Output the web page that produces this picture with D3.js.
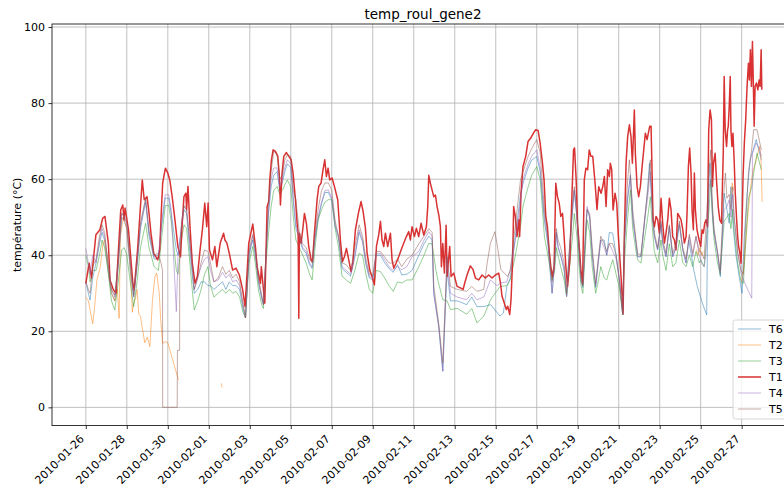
<!DOCTYPE html>
<html><head><meta charset="utf-8">
<script src="https://cdn.jsdelivr.net/npm/d3@7"></script>
<style>body{margin:0;background:#fff}svg{display:block}text{font-family:"DejaVu Sans",sans-serif}</style>
</head><body><svg id="c" width="784" height="487"></svg>
<script>
// ---------------- data ----------------
const title = "temp_roul_gene2";
const yLabel = "température (°C)";
const startDate = "2010-01-26T00:00:00Z";   // hour 0 of every series
const seriesNames = ["T6","T2","T3","T1","T4","T5"];
const xTickLabels = ["2010-01-26","2010-01-28","2010-01-30","2010-02-01","2010-02-03","2010-02-05","2010-02-07","2010-02-09","2010-02-11","2010-02-13","2010-02-15","2010-02-17","2010-02-19","2010-02-21","2010-02-23","2010-02-25","2010-02-27"];
const yTickValues = [0,20,40,60,80,100];

// [hours since startDate, °C]
const T1 = [[0,32.6],[3.9,37.9],[6.7,34],[11.8,45.4],[16.5,46.7],[19.7,49.7],[22.4,50.2],[26.4,43.2],[28.3,33.5],[32.3,30.9],[35.4,30],[38.2,41.4],[40.9,51.9],[43.3,53.2],[44.8,49.3],[46,52.4],[50,46.7],[51.9,41.4],[55.1,32.6],[56.6,30.9],[60.6,41.4],[63.7,51.9],[66.1,59.8],[68.4,54.6],[71.6,55.4],[73.6,51.9],[76.3,45.8],[79.5,40.5],[84.2,38.8],[86.5,41.4],[88.5,51.9],[90,59],[93.2,62.9],[96,61.6],[98.3,59.8],[101.1,55.4],[103.9,50.2],[107.8,42.3],[110.9,39.6],[112.9,48.4],[114.9,55.4],[117.2,56.3],[118,51.9],[119.6,58.1],[122,47.5],[124.7,37.9],[127.9,32.6],[130.6,34.4],[133.8,41.4],[136.5,46.7],[139.3,53.7],[141.6,47.5],[143.2,53.7],[144.8,41.4],[148.3,38.8],[151.1,42.3],[153.4,37],[157.4,43.2],[161.3,45.8],[162.9,44],[165.2,43.2],[168,40.5],[171.9,36.1],[175.8,36.6],[179.8,34.8],[183.7,30.9],[186.5,26.5],[190.8,43.2],[195.5,48.2],[198.6,42.3],[200.6,37],[204.5,32.6],[205.5,37],[208.4,30],[209.6,27.4],[212.3,52.8],[214.2,54.1],[215.4,59.8],[217.4,65.1],[219.3,67.7],[222,67.3],[224.8,66],[226.7,60.7],[227.9,53.2],[229.8,61.6],[231.8,66],[234.9,67],[237.7,66],[240.4,65.1],[242.7,61.6],[245.5,54.6],[247.4,48.4],[248.6,45.8],[249.4,23.4],[250.1,45.8],[252.1,43.2],[254.4,47.5],[256,51],[258.3,48.4],[261,42.3],[263.8,38.8],[265.4,38.3],[267.7,45.8],[270.8,54.6],[272.8,58.1],[275.5,59],[277.8,62.5],[279.8,65.1],[281.7,60.7],[283.7,62.9],[285.6,59.8],[288.4,60.3],[291.1,58.1],[293.5,55.9],[295,54.6],[298.1,44],[300.5,38.3],[302.8,39.6],[305.2,41.8],[307.9,38.8],[310.6,35.7],[312.6,37.9],[315.7,46.7],[319.6,51.5],[322.3,54.1],[324.7,51.5],[327.4,47.1],[329.4,40.5],[332.5,36.1],[335.2,34.4],[337.9,32.2],[340.3,42.3],[343,45.4],[345,48.9],[346.9,44],[348.9,42.3],[350.8,45.8],[353.5,42.3],[356.7,45.8],[358.6,38.8],[360.6,36.6],[363.3,37.9],[366.4,39.6],[369.2,41.4],[372.3,43.2],[375.4,44.9],[378.1,46.2],[380.1,44],[382,47.5],[384.8,44.9],[387.1,47.1],[389.8,44.9],[392.6,48.4],[395.7,45.3],[398.8,47.5],[400.4,52.8],[401.6,61],[403.5,58.9],[405.5,57.1],[407.4,55.4],[409.4,55.8],[411.3,52.8],[413.3,50.6],[415.2,47.5],[416.4,37],[418,43.1],[419.9,35.3],[421.9,47.9],[423,34.4],[426.1,42.3],[427.7,34.4],[430.8,35.3],[434.7,31.8],[438.6,31.4],[441.8,31],[443.7,32.7],[446.4,34.8],[450.3,37.2],[453.5,36.2],[456.2,34],[460.1,33.5],[464,34.8],[467.9,34],[471.8,34.8],[475.7,34],[479.6,34.8],[483.5,35.3],[485.5,32.7],[487.4,29.2],[490.1,27.4],[492.5,25.7],[494,26.6],[496.4,24.4],[497.9,28.3],[499.8,38.8],[501,52.8],[503,50.1],[504.9,44.9],[506.9,49.3],[508,44.9],[509.6,56.2],[511.9,63.3],[515.1,66],[517.8,69.9],[521,70.8],[524.1,72.1],[526.8,73],[529.6,72.8],[532,69.5],[534.7,64.2],[536.6,59.8],[538.6,50.2],[540.5,47.5],[542.5,41.4],[544.5,37],[546.4,34.4],[548.4,37],[550.3,58.9],[552.3,55.4],[554.3,53.7],[556.2,50.2],[558.2,51],[560.1,44.9],[562.1,37],[564.1,31.8],[566.8,38.8],[568.8,52.8],[571.1,67.7],[572.3,68.2],[574.2,59.8],[575.8,48.4],[577.8,42.3],[579.7,36.1],[581.7,32.6],[583.7,59.8],[585.6,62.9],[587.6,62.5],[589.5,67.7],[591.5,66],[593.6,66],[596.3,59],[598.6,52],[600.6,58],[603.3,56.3],[605.3,58],[607.2,60.7],[609.2,52.8],[611.1,62.5],[613.1,60.7],[614.2,64.2],[615.8,62.5],[617.4,51.9],[619.7,56.3],[621.7,53.7],[623.6,44.9],[625.2,39.6],[626.7,34.4],[629.1,24.7],[630.6,44.9],[632.6,64.2],[634.5,71.2],[636.5,74.3],[638.4,71.2],[640,64.2],[641.2,71.2],[642.3,78.2],[643.5,66.8],[645.5,58.1],[647.4,55.4],[649.4,58.1],[651.4,63.3],[653.3,67.7],[655.2,72.1],[657.2,70.4],[658.7,72.1],[660.3,73.9],[661.9,73.9],[663,62.5],[664.2,49.3],[665.8,47.5],[667.7,50.2],[669.7,49.3],[671.6,45.8],[673.6,55],[675.5,48.4],[677.5,43.2],[679.4,45.8],[681.4,49.3],[683.3,55],[685.3,51.9],[687.2,44.9],[689.2,44],[691.1,41.4],[693.1,51],[695,50.2],[697,49.3],[699,46.7],[700.9,43.2],[702.9,44.9],[704,51],[705.6,63.3],[707.1,68.2],[708.7,61.6],[709.9,51.9],[711.4,46.7],[712.6,61.6],[713.8,51.9],[715.7,46.7],[717.3,44.9],[720,42.3],[721.6,46.7],[723.1,45.8],[724.7,48.4],[726.3,49.3],[727.9,47.5],[729.4,73],[731,78.2],[732.6,75.6],[733.8,58.1],[735,64.2],[736.9,66.8],[738.5,59.8],[740.5,52.8],[742.4,49.3],[744.4,48.4],[746.4,66.8],[747.5,87],[748.7,73],[750.3,68.6],[751.5,73],[752.3,73.9],[753.4,79.1],[754.6,87],[755.4,73],[756.6,68.6],[757.8,72.1],[759.3,64.2],[760.5,56.3],[762.1,49.3],[763.3,44.9],[764.4,42.3],[766,40.5],[767.2,37.9],[768.4,47.5],[769.6,60.7],[771.1,69.5],[772.7,75.6],[774.3,84.4],[775.9,90.5],[777,86.1],[778.2,94],[779.4,84.4],[780.6,96.2],[781.8,83.5],[782.6,73.9],[783.7,84.4],[785.3,85.3],[786.9,83.5],[788.4,86.1],[789.6,84.4],[790.8,94],[791.6,83.5]];

const T2 = [[0,29],[3,28],[5,25.6],[8,22],[10,25.6],[13,33.5],[17,37],[20,43],[22,44],[26,37],[30,30],[34,28],[37,31],[39,23.4],[40.5,45],[44,50],[48,47],[52,37],[54.5,25],[55.5,27],[58,28.5],[60,31],[62,24.5],[64,24],[66,21],[69,17],[72,18.5],[75,16],[78,28],[81,34.4],[83,35.3],[86,30],[88,22],[90,16.8],[93,17.3],[96,17],[100.7,13.3],[108.5,7.2],[109,null],[158.8,6.3],[159.6,5.2],[160,null],[715,41.5],[717,40],[719,42],[721,40],[723,41],[725,null],[755,56],[757,59],[758.5,57],[759,null],[768,33],[771,38],[775,50],[778,57],[781,62],[785,65],[789,68.6],[790.5,66],[792,54]];

const T3 = [[0,40],[3,37],[5,33],[8,36],[12,36],[16,40],[19,44],[22,42],[26,36],[30,28],[34,25.6],[38,33],[42,41.4],[45,42],[48,40],[52,33],[56,26.5],[60,33],[64,42],[70,48.4],[74,42],[80,37],[85,36],[89,45],[93,53],[97,53.2],[100,49],[106,36],[108,35],[112,44],[115,48],[118,47],[121,40],[125,30],[127,25.6],[131,28],[135,31],[139,35],[143,37],[146,32],[150,29],[155,30],[160,31],[164,30],[168,31],[172,30],[176,30.5],[180,29],[184,25],[187,23.5],[191,38],[195.5,42.3],[199,37],[202,31],[206,27],[208,26],[211,38],[214,45.8],[217,52.8],[220,57],[224,58.1],[227,56],[230,57],[233,58.5],[236,59.8],[240,58],[243,50],[246,44],[250,42],[254,40],[258,38],[262,35],[265,33.5],[268,41],[272,49.3],[276,52],[280,54],[284,54.6],[288,54.6],[292,47],[296,42],[300,34.5],[305,33.5],[310,32.6],[315,36],[320,40.5],[324,40],[328,35],[332,31],[336,30],[340,36],[345,35.7],[350,34],[355,32],[360,30.5],[365,33],[370,32.7],[376,33.5],[382,33.5],[390,37],[396,40],[401.6,43.1],[405.5,43],[410,36],[413,32.7],[418,28.3],[423,28],[427,25.7],[435,26],[446,24.5],[452,26],[458,22.2],[466,24],[474,28.3],[485,31.8],[493,32],[497,33.5],[503,40],[509,47.5],[512,53],[518,58],[522,61],[528,63.3],[532,60],[537,45],[541,40],[546,33.5],[549,36],[551,42],[553,40],[556,37],[560,33.5],[563,29.1],[566,36],[570,45],[572,51],[575,45],[578,36],[580,31.8],[582,30],[585,42],[587,49.3],[590,46],[593,37],[597,30],[600,33],[603,37],[607,34],[610,33.5],[613,36],[617,38.8],[621,35],[625,30.9],[628.7,24.3],[630.6,38],[634.5,50],[637.7,57.2],[640.4,47],[644.3,41],[646.2,38.8],[650,37.9],[654,44],[658,50],[661,55.4],[663.8,46],[665.7,41],[669.6,38],[673.5,44],[675.5,40],[679.4,36],[683.3,43],[687.2,37],[691,38],[695,44],[699,38],[702.8,37],[706.7,40],[710.6,37],[714.5,41],[718.4,38],[720,38.8],[724,37],[729.8,52],[731.8,59.8],[733.8,50],[735.7,44],[739.7,38],[742.8,35],[747.5,49],[750.7,50],[753.4,51],[755.4,47],[757.4,52],[759.3,46],[763.3,38],[767.2,33],[770,32.6],[773,45],[776,55],[779.8,58],[783,63],[786,66.8],[791,62.5]];

const T4 = [[0,41.8],[3,38],[5,35],[8,40],[12,38],[16,44],[19,47],[22,45],[26,38],[30,31],[34,29],[38,38],[42,51],[45,50],[48,48],[52,38],[56,29],[60,38],[64,48],[70,54.6],[74,46],[80,39.6],[85,40],[89,49],[93,55.9],[97,55.9],[100,52],[106,25.2],[108,40],[112,48],[115,52.8],[118,52],[121,45],[125,36],[127,31],[131,34],[135,37],[139,39],[143,39.6],[146,36],[150,33],[155,33.5],[160,35.5],[164,34],[168,35],[172,33],[176,33.5],[180,32],[184,27],[187,23.5],[191,40],[195.5,45],[199,40],[202,33.5],[206,29],[208,27],[211,40],[214,52],[217,60],[220,62.9],[224,63],[227,58],[230,60],[233,63],[236,65.1],[240,64],[243,55],[246,48],[250,45],[254,42],[258,41],[262,38],[265,37],[268,44],[272,50],[276,54],[280,57],[284,57.2],[288,55],[292,48],[296,44.9],[300,37],[305,36],[310,35],[315,40],[320,46.7],[324,44],[328,38],[332,34.4],[336,34],[340,40.5],[345,40.5],[350,38.8],[355,37],[360,36],[365,37],[370,36.2],[376,37],[382,39.6],[390,41],[396,44],[401.6,46.2],[405.5,45],[407.4,30],[413.3,21.3],[418,9.5],[423,39.6],[425,34],[427,30],[434.7,29],[446,28.3],[452,30],[458,28.3],[466,29],[473.7,33.5],[481.5,32],[485.5,32.7],[493,33],[497,36.2],[503,44],[509,54],[512,60],[518,64],[522,66],[528,67.7],[532,63],[537,50],[541,44],[546,30],[549,38],[551,45.8],[553,42.3],[556,40],[560,37],[563,29.1],[566,40],[570,52],[572,57.2],[575,50],[578,40],[580,33.5],[582,32],[585,45],[587,52.8],[590,50],[593,40],[597,31.8],[600,38],[603,44],[607,42],[610,40],[613,43],[617,41],[621,39],[625,33.5],[628.7,24.3],[630.6,43.2],[634.5,55],[637.7,60.7],[640.4,49.3],[644.3,43.2],[646.2,39.6],[650,39.6],[654,48.4],[658,55.4],[661,62],[663.8,49.3],[665.7,44.9],[669.6,41.4],[673.5,48.4],[675.5,43],[679.4,39.6],[683.3,47.5],[687.2,39.6],[691,42],[695,48.4],[699,41.4],[702.8,37.9],[706.7,44.9],[710.6,39.6],[714.5,44.9],[718.4,40],[721,38],[724,37],[726,40],[729.8,58],[731.8,60],[733.8,51],[735.7,45.8],[739.7,40.5],[742.8,35.3],[747.5,52],[750.7,52.8],[753.4,54.6],[755.4,50],[757.4,56],[759.3,49.3],[763.3,40.5],[767.2,35.3],[773,32],[779.8,28.7],[780.6,66.8],[785,69.5],[788.8,68],[791,66]];

const T5 = [[0,33],[3,31],[5,30],[8,37],[12,39],[16,45],[19,48],[22,46],[26,38],[30,31],[34,29.5],[38,39],[42,51],[45,50.5],[48,48.5],[52,38],[56,29.5],[60,38.5],[64,48.5],[70,55],[74,46.5],[80,40],[85,40.5],[88,38],[89.8,36],[90,0],[107,0],[107.3,15],[109.8,15],[110,38.8],[112,48.5],[115,53],[118,52],[121,45.5],[125,36],[127,31],[131,34],[135,38],[139,41.4],[143,41],[146,38],[150,33],[155,34],[160,37],[164,35],[168,36],[172,34],[176,35],[180,33],[184,27.5],[187,23.5],[191,41],[195.5,45.5],[199,40.5],[202,34],[206,29.5],[208,27],[211,41],[214,54],[217,62],[220,67.3],[224,66.5],[227,60],[230,61],[233,65],[236,66.4],[240,66],[243,57],[246,54.6],[250,46],[254,43],[258,42],[262,39],[265,38],[268,45],[272,52],[276,57],[280,59],[284,59],[288,57],[292,49],[296,45],[300,38],[305,37.5],[310,36],[315,42],[320,48],[324,45],[328,39],[332,35],[336,34.5],[340,41],[345,41],[350,39.5],[355,38],[360,37.9],[365,39],[370,37],[376,39],[382,40],[390,43],[396,45],[401.6,47],[405.5,46],[407.4,32],[413.3,22],[418,11.7],[423,39.6],[427,31.8],[435,31],[446,30.5],[452,31.8],[458,30.5],[466,31],[470,38],[473.7,43.1],[479,46.2],[482,42.3],[486,36.2],[490,35.3],[494,34.4],[497,36],[503,48],[509,59.8],[512,62],[518,66],[522,68],[528,70.4],[532,67],[537,52],[541,45],[546,33],[549,40],[551,47],[553,44],[556,42],[560,38],[563,30],[566,41],[570,54],[572,58],[575,51],[578,41],[580,34],[582,32],[585,46],[587,52],[590,51],[593,42],[597,32.5],[600,39],[603,45],[607,43],[610,41],[613,43.2],[617,43],[621,40],[625,33],[628.7,24.3],[630.6,45],[634.5,59.8],[636.5,65.1],[640.4,52],[644.3,44],[646.2,40.5],[650,40],[654,49],[658,57],[661,65.1],[663.8,51],[665.7,46],[669.6,42],[673.5,49],[675.5,44],[679.4,40.5],[683.3,48],[687.2,40.5],[691,43],[695,49],[699,42],[702.8,39],[706.7,45.5],[710.6,40.5],[714.5,45],[718.4,41],[720,41],[724,39],[729.8,62],[731.8,67.7],[733.8,53],[735.7,47],[739.7,41],[742.8,36],[747.5,58],[749,61.6],[750.7,55],[753.4,56],[755.4,52],[757.4,58],[759.3,50],[763.3,41],[767.2,36],[770,35],[773,50],[776,62],[779.8,68],[782,73],[786,73],[791,67.7]];

const T6 = [[0,33],[3,30],[5,28.2],[8,34],[12,38],[16,43],[19,46],[22,44],[26,36],[30,30],[34,28],[38,37],[42,50],[45,49],[48,47],[52,36],[56,29],[60,37],[64,47],[70,54],[74,45],[80,39],[85,39],[89,48],[93,55],[97,55],[100,51],[106,41.4],[108,40],[112,47],[115,52],[118,51],[121,43],[125,34],[127,30],[131,31],[135,33],[139,33],[143,32],[146,32],[150,31],[155,32],[160,33],[164,31],[168,33],[172,32],[176,32],[180,31],[184,26],[187,23.5],[191,40],[195.5,44],[199,39],[202,33],[206,28.5],[208,27],[211,40],[214,51],[217,58],[220,61],[224,62],[227,57],[230,59],[233,62],[236,64],[240,63],[243,54],[246,47],[250,44.5],[254,41.5],[258,40.5],[262,37.5],[265,36.5],[268,43.5],[272,49.5],[276,53.5],[280,56.5],[284,56.5],[288,54.5],[292,47.5],[296,44.5],[300,36.5],[305,35.5],[310,34.5],[315,39.5],[320,46],[324,43.5],[328,37.5],[332,34],[336,33.5],[340,40],[345,40],[350,38],[355,36.5],[360,35.5],[365,37.5],[370,34.8],[376,35],[382,36],[390,40],[396,43],[401.6,45],[405.5,44],[407.4,30],[413.3,21],[418,9.5],[423,36],[427,28],[435,28],[446,27],[452,29],[458,26.5],[466,26.5],[474,27],[485,24],[489,24.8],[493,31.8],[497,34],[503,45],[509,56],[512,59],[518,63],[522,65],[528,66],[532,62],[537,49],[541,43],[546,30],[549,38],[551,46],[553,42],[556,40],[560,36],[563,29.5],[566,40],[570,52],[572,57],[575,50],[578,39],[580,33],[582,31.5],[585,44],[587,52],[590,50],[593,40],[597,31.5],[600,38],[603,44],[607,44],[610,40],[613,46],[617,45.8],[621,40],[625,33],[628.7,24.3],[630.6,43],[634.5,55],[637.7,61.1],[640.4,50],[644.3,43],[646.2,39.6],[650,39.6],[654,48],[658,58],[660,64.2],[663.8,50],[665.7,45],[669.6,41.4],[673.5,48],[675.5,43],[679.4,39.6],[683.3,47.5],[687.2,39.6],[691,42],[695,48],[699,41.4],[702.8,38],[706,44],[708,41.4],[712,36],[716,31.8],[722,27.4],[727,24.3],[727.8,40.5],[729.8,60],[731,64.2],[733.8,51],[735.7,45.8],[739.7,40.5],[743,34.4],[747.5,56.3],[750.7,52],[753.4,48.4],[755.4,58],[757.4,49.3],[761,40.5],[764.4,35.3],[768.4,30],[771,44.9],[775,58],[778,65.1],[785,70.4],[791,65.1]];

const seriesData = {T6, T2, T3, T1, T4, T5};

// ---------------- styling / layout ----------------
const colors = {T6:"#1f77b4", T2:"#ff7f0e", T3:"#2ca02c", T1:"#d62728", T4:"#9467bd", T5:"#8c564b"};
const widths = {T1:1.5};
const opac = {T1:0.95};
const plot = {left:52, top:24, right:796, bottom:425.6};
const tickFont = 11, titleFont = 13.5;

const t0 = Date.parse(startDate);
const toDate = h => new Date(t0 + h*3600e3);
// matplotlib-like 5% margins around the data span
const hMin = 0, hMax = 792, pad = (hMax-hMin)*0.05;
const x = d3.scaleUtc().domain([toDate(hMin-pad), toDate(hMax+pad)]).range([plot.left, plot.right]);
const y = d3.scaleLinear().domain([-4.8, 100.8]).range([plot.bottom, plot.top]);

const svg = d3.select("#c");
svg.append("rect").attr("width",784).attr("height",487).attr("fill","#fff");

svg.append("defs").append("clipPath").attr("id","clip").append("rect")
  .attr("x",plot.left).attr("y",plot.top).attr("width",plot.right-plot.left).attr("height",plot.bottom-plot.top);

const tickDates = xTickLabels.map(s => new Date(s+"T00:00:00Z"));

// grid
const grid = svg.append("g");
grid.selectAll("line.v").data(tickDates).join("line")
  .attr("x1",d=>x(d)).attr("x2",d=>x(d)).attr("y1",plot.top).attr("y2",plot.bottom)
  .attr("stroke","#b0b0b0").attr("stroke-width",0.8);
grid.selectAll("line.h").data(yTickValues).join("line")
  .attr("x1",plot.left).attr("x2",plot.right).attr("y1",d=>y(d)).attr("y2",d=>y(d))
  .attr("stroke","#b0b0b0").attr("stroke-width",0.8);

// lines
const line = d3.line().defined(d=>d[1]!==null).x(d=>x(toDate(d[0]))).y(d=>y(d[1]));
const lg = svg.append("g").attr("clip-path","url(#clip)");
seriesNames.forEach(n=>{
  lg.append("path").datum(seriesData[n]).attr("d",line).attr("fill","none")
    .attr("stroke",colors[n]).attr("stroke-width",widths[n]||1)
    .attr("stroke-opacity",opac[n]||0.5).attr("stroke-linejoin","round");
});

// spines
svg.append("rect").attr("x",plot.left).attr("y",plot.top).attr("width",plot.right-plot.left).attr("height",plot.bottom-plot.top)
  .attr("fill","none").attr("stroke","#000").attr("stroke-width",0.8);

// y axis
const ya = svg.append("g").attr("transform",`translate(${plot.left},0)`)
  .call(d3.axisLeft(y).tickValues(yTickValues).tickSize(3.5).tickPadding(3.5));
ya.select(".domain").remove();
ya.selectAll("line").attr("stroke","#000").attr("stroke-width",0.8);
ya.selectAll("text").attr("font-size",tickFont).attr("font-family","DejaVu Sans").attr("fill","#000");

// x axis
const xa = svg.append("g").attr("transform",`translate(0,${plot.bottom})`)
  .call(d3.axisBottom(x).tickValues(tickDates).tickFormat(d3.utcFormat("%Y-%m-%d")).tickSize(3.5));
xa.select(".domain").remove();
xa.selectAll("line").attr("stroke","#000").attr("stroke-width",0.8);
xa.selectAll("text").attr("font-size",tickFont).attr("font-family","DejaVu Sans").attr("fill","#000")
  .attr("text-anchor","end").attr("x",0).attr("y",0).attr("dy",0)
  .attr("transform","translate(-1.5,14) rotate(-45)");

// title
svg.append("text").attr("x",(plot.left+plot.right)/2 - 1).attr("y",19).attr("text-anchor","middle")
  .attr("font-size",titleFont).text(title);
// y label
svg.append("text").attr("transform",`translate(21,${(plot.top+plot.bottom)/2}) rotate(-90)`)
  .attr("text-anchor","middle").attr("font-size",tickFont).text(yLabel);

// legend
const leg = svg.append("g");
leg.append("rect").attr("x",733).attr("y",320).attr("width",70).attr("height",99).attr("rx",2.5)
  .attr("fill","#fff").attr("fill-opacity",0.8).attr("stroke","#cccccc").attr("stroke-width",0.8);
seriesNames.forEach((n,i)=>{
  const yy = 329 + i*16;
  leg.append("line").attr("x1",738).attr("x2",761).attr("y1",yy).attr("y2",yy)
    .attr("stroke",colors[n]).attr("stroke-width",widths[n]||1).attr("stroke-opacity",opac[n]||0.5);
  leg.append("text").attr("x",769).attr("y",yy+4).attr("font-size",tickFont).text(n);
});
</script></body></html>
